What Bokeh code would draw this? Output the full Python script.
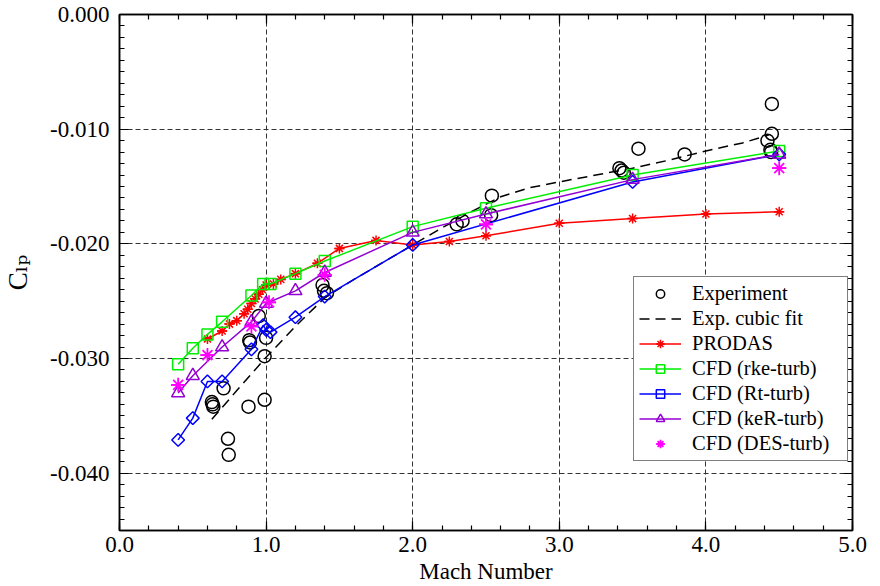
import math
from bokeh.plotting import figure
from bokeh.models import (Range1d, LinearAxis, SingleIntervalTicker, PrintfTickFormatter,
                          Legend, LegendItem, Grid, CustomJSTickFormatter)
from bokeh.embed import file_html
from bokeh.resources import INLINE

# ---------------- data ----------------
exp_x = [0.63, 0.635, 0.64, 0.71, 0.74, 0.745, 0.88, 0.885, 0.89, 0.95, 1.0, 0.99, 0.99,
         1.385, 1.395, 1.415, 2.30, 2.34, 2.535, 2.54, 3.41, 3.425, 3.44, 3.54, 3.855,
         4.42, 4.44, 4.445, 4.45, 4.45]
exp_y = [-0.0338, -0.0340, -0.0342, -0.0326, -0.0370, -0.0384, -0.0342, -0.0284, -0.0286,
         -0.0263, -0.0282, -0.0298, -0.0336, -0.0236, -0.0241, -0.0243, -0.0183, -0.0180,
         -0.0175, -0.0158, -0.0134, -0.0136, -0.0138, -0.0117, -0.0122, -0.0110, -0.0118,
         -0.0120, -0.0104, -0.0078]

fit_x = [0.63, 0.8, 1.0, 1.2, 1.4, 1.6, 1.8, 2.0, 2.2, 2.4, 2.6, 2.8, 3.0, 3.25, 3.5,
         3.75, 4.0, 4.25, 4.43]
fit_y = [-0.0353, -0.0328, -0.0299, -0.0272, -0.0247, -0.0231, -0.0216, -0.0201, -0.0186,
         -0.0172, -0.0159, -0.0151, -0.0146, -0.0140, -0.0134, -0.0127, -0.0119, -0.0112,
         -0.0105]

prodas_x = [0.6, 0.7, 0.75, 0.8, 0.85, 0.875, 0.9, 0.925, 0.95, 0.975, 1.0, 1.05, 1.1,
            1.2, 1.35, 1.5, 1.75, 2.0, 2.25, 2.5, 3.0, 3.5, 4.0, 4.5]
prodas_y = [-0.0283, -0.0276, -0.0270, -0.0267, -0.0261, -0.0257, -0.0252, -0.0248,
            -0.0244, -0.0240, -0.0236, -0.0235, -0.0231, -0.0226, -0.0217, -0.0204,
            -0.0197, -0.0201, -0.0198, -0.0193, -0.0182, -0.0178, -0.0174, -0.0172]

rke_x = [0.4, 0.5, 0.6, 0.7, 0.9, 0.98, 1.03, 1.2, 1.4, 2.0, 2.5, 3.5, 4.5]
rke_y = [-0.0305, -0.0291, -0.0279, -0.0268, -0.0245, -0.0235, -0.0235, -0.0226, -0.0215,
         -0.0185, -0.0169, -0.0140, -0.0119]

rt_x = [0.4, 0.5, 0.6, 0.7, 0.9, 0.98, 1.0, 1.03, 1.2, 1.4, 2.0, 3.5, 4.5]
rt_y = [-0.0371, -0.0352, -0.0320, -0.0320, -0.0292, -0.0271, -0.0275, -0.0277, -0.0264,
        -0.0246, -0.0201, -0.0146, -0.0122]

ker_x = [0.4, 0.5, 0.7, 0.9, 1.0, 1.2, 1.4, 2.0, 2.5, 3.5, 4.5]
ker_y = [-0.0330, -0.0315, -0.0290, -0.0268, -0.0252, -0.0241, -0.0225, -0.0190, -0.0174,
         -0.0144, -0.0122]

des_x = [0.4, 0.6, 0.9, 1.02, 1.4, 2.5, 4.5]
des_y = [-0.0323, -0.0297, -0.0272, -0.0251, -0.0227, -0.0183, -0.0134]

x_label = "Mach Number"
y_label = "C\u2097\u209a"
legend_labels = ["Experiment", "Exp. cubic fit", "PRODAS", "CFD (rke-turb)",
                 "CFD (Rt-turb)", "CFD (keR-turb)", "CFD (DES-turb)"]

# ---------------- figure ----------------
FONT = "Liberation Serif, Times New Roman, DejaVu Serif, serif"

p = figure(width=872, height=586,
           x_range=Range1d(0, 5), y_range=Range1d(-0.045, 0.0),
           x_axis_type=None, y_axis_type=None,
           output_backend="svg", toolbar_location=None,
           min_border_left=119, min_border_right=20, min_border_top=14, min_border_bottom=56)
p.outline_line_color = "black"
p.outline_line_width = 1.5
p.background_fill_color = "white"
p.border_fill_color = "white"

xt = SingleIntervalTicker(interval=1, num_minor_ticks=5)
yt = SingleIntervalTicker(interval=0.01, num_minor_ticks=10)


def style_axis(ax, show_labels, standoff=4):
    ax.axis_line_color = "black"
    ax.axis_line_width = 1.5
    ax.major_tick_in = 9
    ax.major_tick_out = 0
    ax.minor_tick_in = 5
    ax.minor_tick_out = 0
    ax.major_tick_line_color = "black"
    ax.minor_tick_line_color = "black"
    ax.major_tick_line_width = 1.2
    ax.minor_tick_line_width = 1.2
    if show_labels:
        ax.major_label_text_font = FONT
        ax.major_label_text_font_style = "normal"
        ax.major_label_text_font_size = "23px"
        ax.major_label_text_color = "black"
        ax.major_label_standoff = standoff
        ax.axis_label_text_font = FONT
        ax.axis_label_text_font_style = "normal"
        ax.axis_label_text_color = "black"
    else:
        ax.major_label_text_font_size = "0px"
        ax.major_label_standoff = 0


xb = LinearAxis(ticker=xt, formatter=PrintfTickFormatter(format="%.1f"), axis_label=x_label)
style_axis(xb, True, 6)
xb.axis_label_text_font_size = "23px"
xb.axis_label_standoff = 4
p.add_layout(xb, "below")

yl = LinearAxis(ticker=yt, formatter=PrintfTickFormatter(format="%.3f"), axis_label=y_label)
style_axis(yl, True, 10)
yl.axis_label_text_font_size = "27px"
yl.axis_label_standoff = 14
p.add_layout(yl, "left")

xa = LinearAxis(ticker=xt, formatter=CustomJSTickFormatter(code="return ''"))
style_axis(xa, False)
p.add_layout(xa, "above")
yr = LinearAxis(ticker=yt, formatter=CustomJSTickFormatter(code="return ''"))
style_axis(yr, False)
p.add_layout(yr, "right")

for dim, tk in ((0, xt), (1, yt)):
    g = Grid(dimension=dim, ticker=tk, grid_line_color="#333333", grid_line_width=1,
             grid_line_dash="5 3")
    p.add_layout(g)

# ---------------- series ----------------
r_exp = p.scatter(exp_x, exp_y, marker="circle", size=13, line_color="black",
                  fill_color=None, line_width=1.5)
r_fit = p.line(fit_x, fit_y, line_color="black", line_dash="10 6", line_width=1.5)

RED = "#ff0000"
r_pr_l = p.line(prodas_x, prodas_y, line_color=RED, line_width=1.5)
r_pr_m = p.scatter(prodas_x, prodas_y, marker="asterisk", size=10, line_color=RED,
                   line_width=1.5)
r_pr_d = p.scatter(prodas_x, prodas_y, marker="dash", size=10, line_color=RED,
                   line_width=1.5)

GREEN = "#00ee00"
r_rke_l = p.line(rke_x, rke_y, line_color=GREEN, line_width=1.5)
r_rke_m = p.scatter(rke_x, rke_y, marker="square", size=11, line_color=GREEN,
                    fill_color=None, line_width=1.5)

BLUE = "#0000ff"
r_rt_l = p.line(rt_x, rt_y, line_color=BLUE, line_width=1.5)
r_rt_m = p.scatter(rt_x, rt_y, marker="square", angle=math.pi / 4, size=9,
                   line_color=BLUE, fill_color=None, line_width=1.5)

PURPLE = "#9400d3"
r_ke_l = p.line(ker_x, ker_y, line_color=PURPLE, line_width=1.5)
r_ke_m = p.scatter(ker_x, ker_y, marker="triangle", size=13, line_color=PURPLE,
                   fill_color=None, line_width=1.5)

MAG = "#ff00ff"
r_des = p.scatter(des_x, des_y, marker="asterisk", size=14, line_color=MAG, line_width=1.8)
r_des_d = p.scatter(des_x, des_y, marker="dash", size=14, line_color=MAG, line_width=1.8)

items = [
    LegendItem(label=legend_labels[0], renderers=[r_exp]),
    LegendItem(label=legend_labels[1], renderers=[r_fit]),
    LegendItem(label=legend_labels[2], renderers=[r_pr_l, r_pr_m, r_pr_d]),
    LegendItem(label=legend_labels[3], renderers=[r_rke_l, r_rke_m]),
    LegendItem(label=legend_labels[4], renderers=[r_rt_l, r_rt_m]),
    LegendItem(label=legend_labels[5], renderers=[r_ke_l, r_ke_m]),
    LegendItem(label=legend_labels[6], renderers=[r_des, r_des_d]),
]
legend = Legend(items=items, location=(514, 69),
                border_line_color="black", border_line_width=1.5,
                background_fill_color="white", background_fill_alpha=1.0,
                label_text_font=FONT, label_text_font_size="20.5px",
                label_text_font_style="normal", label_text_color="black",
                glyph_width=42, glyph_height=21, label_height=21, label_width=150,
                label_standoff=11, spacing=2, padding=5, margin=0)
p.add_layout(legend, "center")

open("out.html", "w").write(file_html(p, INLINE))
